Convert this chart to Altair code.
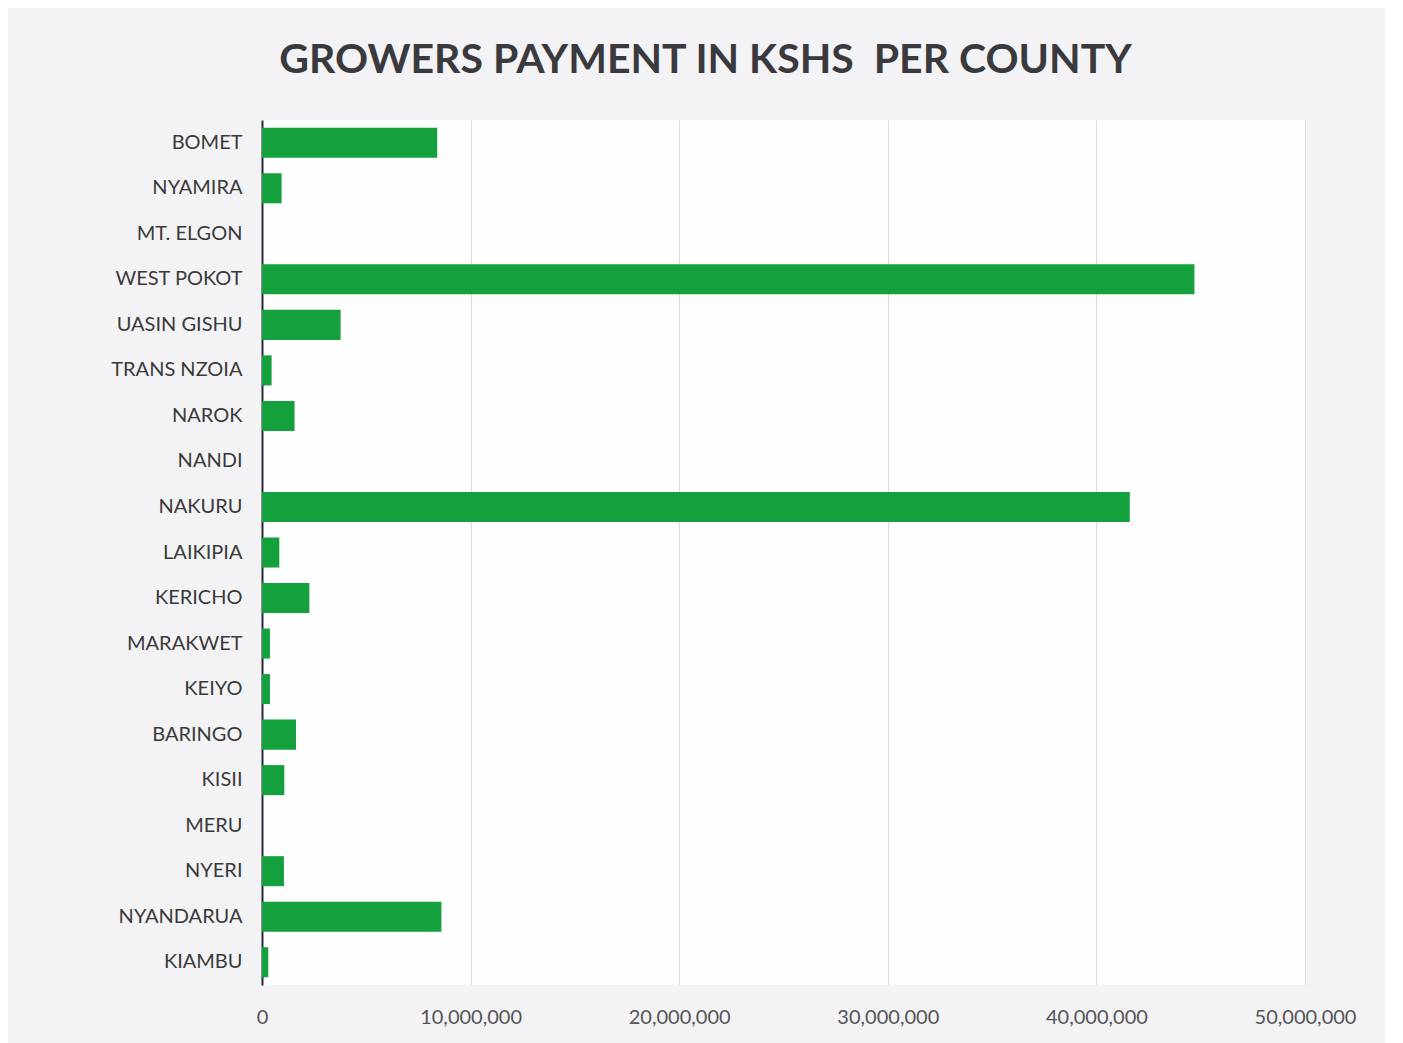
import altair as alt
import pandas as pd

counties = ["BOMET", "NYAMIRA", "MT. ELGON", "WEST POKOT", "UASIN GISHU", "TRANS NZOIA",
            "NAROK", "NANDI", "NAKURU", "LAIKIPIA", "KERICHO", "MARAKWET", "KEIYO",
            "BARINGO", "KISII", "MERU", "NYERI", "NYANDARUA", "KIAMBU"]
payments = [8400000, 940000, 0, 44700000, 3770000, 460000,
            1560000, 0, 41600000, 830000, 2270000, 380000, 380000,
            1630000, 1070000, 0, 1050000, 8600000, 300000]
x_ticks = [0, 10000000, 20000000, 30000000, 40000000, 50000000]

df = pd.DataFrame({"county": counties, "payment": payments})

chart = alt.Chart(df).mark_bar(color="#14a03d").encode(
    x=alt.X("payment:Q",
            scale=alt.Scale(domain=[0, 50000000], nice=False),
            axis=alt.Axis(values=x_ticks, format=",.0f", title=None,
                          domain=False, ticks=False, grid=True,
                          gridColor="#dcdcdc", gridWidth=1, labelFlush=False,
                          labelFont="Lato", labelFontSize=20, labelColor="#555555",
                          labelPadding=22)),
    y=alt.Y("county:N", sort=counties,
            scale=alt.Scale(paddingInner=0.34, paddingOuter=0.17),
            axis=alt.Axis(title=None, ticks=False, domain=True,
                          domainColor="#2a2a3a", domainWidth=2,
                          labelFont="Lato", labelFontSize=20, labelColor="#3a3a3a",
                          labelPadding=20)),
).properties(
    width=1043,
    height=865,
    title=alt.TitleParams("GROWERS PAYMENT IN KSHS\u00a0\u00a0PER COUNTY",
                          font="Lato", fontSize=41, fontWeight="bold",
                          color="#3a3a3e", anchor="middle", offset=38,
                          dx=-78),
    autosize=alt.AutoSizeParams(type="none"),
    padding={"left": 254, "top": 112, "right": 80, "bottom": 60},
    background="#f3f3f5",
).configure_view(
    fill="#fefefe", stroke=None
)

chart.save("out.html", embed_options={"renderer": "svg", "actions": False})
